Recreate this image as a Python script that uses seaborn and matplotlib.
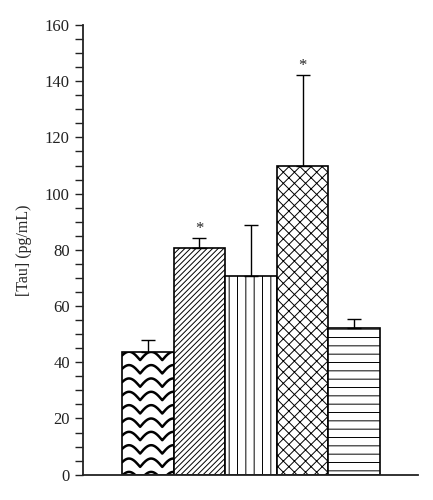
import numpy as np
import pandas as pd
import seaborn as sns
import matplotlib.pyplot as plt
from matplotlib.ticker import MultipleLocator

groups = ["A", "B", "C", "D", "E"]
means = [43.6, 80.5, 70.7, 109.8, 52.1]
err_up = [4.3, 3.8, 18.1, 32.4, 3.3]
signif = ["", "*", "", "*", ""]
hatches = ["", "//////", "||", "xxx", "--"]

sns.set_theme(style="ticks")
plt.rcParams['font.family'] = ['Liberation Serif', 'DejaVu Serif']
plt.rcParams['hatch.linewidth'] = 0.7

df = pd.DataFrame({"group": groups, "tau": means})

fig = plt.figure(figsize=(4.33, 5.0), dpi=100)
ax = fig.add_axes([0.1917, 0.0506, 0.7737, 0.8994])

sns.barplot(data=df, x="group", y="tau", color="white", edgecolor="black",
            linewidth=1.2, width=1.0, saturation=1, ax=ax)

for p, h in zip(ax.patches, hatches):
    p.set_hatch(h)
    p.set_facecolor("white")

# wavy fill for the first bar (no builtin hatch for it)
p0 = ax.patches[0]
x0, w, h0 = p0.get_x(), p0.get_width(), p0.get_height()
xs = np.linspace(x0, x0 + w, 300)
period = 0.43
for base in np.arange(-2.0, h0 + 1, 4.75):
    ys = base + 3.0 * np.abs(np.sin(np.pi * (xs - x0 + 0.08) / period))
    ln, = ax.plot(xs, ys, color="black", lw=1.8)
    ln.set_clip_path(p0)

xpos = np.arange(len(groups))
ax.errorbar(xpos, means, yerr=[np.zeros(len(means)), err_up], fmt="none",
            ecolor="black", elinewidth=1.0, capsize=5, capthick=1.0)

for x, m, e, s in zip(xpos, means, err_up, signif):
    if s:
        ax.text(x, m + e + 0.3, s, ha="center", va="bottom", fontsize=12)

ax.set_ylim(0, 160)
ax.set_xlim(-1.257, 5.24)
ax.yaxis.set_major_locator(MultipleLocator(20))
ax.yaxis.set_minor_locator(MultipleLocator(5))
ax.tick_params(axis="y", which="both", direction="out", length=6, width=1.0,
               labelsize=12, colors="#222222")
ax.tick_params(axis="x", length=0, labelbottom=False)
ax.set_xlabel("")
ax.set_ylabel("[Tau] (pg/mL)", fontsize=11.5, labelpad=9)
for s in ["top", "right"]:
    ax.spines[s].set_visible(False)
for s in ["left", "bottom"]:
    ax.spines[s].set_linewidth(1.3)
    ax.spines[s].set_color("#222222")

fig.savefig("out.png", dpi=100)
